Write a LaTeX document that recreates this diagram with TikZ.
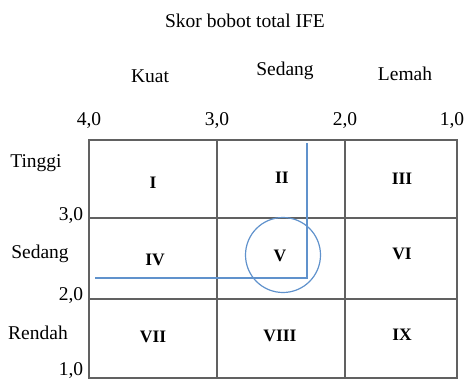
\documentclass[tikz,border=0pt]{standalone}
\usepackage{fontspec}
\setmainfont{Liberation Serif}
\begin{document}
\begin{tikzpicture}[x=1pt,y=-1pt,
  lbl/.style={font=\fontsize{19.5}{22}\selectfont, inner sep=0pt},
  num/.style={font=\fontsize{17.5}{20}\selectfont\bfseries, inner sep=0pt},
  grid/.style={draw=black!62, line width=1.3pt}]
\useasboundingbox (0,0) rectangle (469,380);
\definecolor{bl}{RGB}{96,146,204}
\tikzset{bline/.style={draw=bl, line width=2.8pt}, bcirc/.style={draw=bl, line width=1.2pt}}
% grid corners
\coordinate (a0) at (89,140); \coordinate (a1) at (217,140); \coordinate (a2) at (345,140); \coordinate (a3) at (457,140);
\coordinate (b0) at (89,218); \coordinate (b3) at (457,218);
\coordinate (c0) at (89,299); \coordinate (c3) at (457,299);
\coordinate (d0) at (89,378); \coordinate (d1) at (217,378); \coordinate (d2) at (345,378); \coordinate (d3) at (457,378);
\draw[grid] (a0) rectangle (d3);
\draw[grid] (a1) -- (d1);
\draw[grid] (a2) -- (d2);
\draw[grid] (b0) -- (b3);
\draw[grid] (c0) -- (c3);
% title and headers
\node[lbl] (title) at (245,21) {Skor bobot total IFE};
\node[lbl] (kuat) at (150,76) {Kuat};
\node[lbl] (sedangT) at (285,71) {Sedang};
\node[lbl] (lemah) at (405,74) {Lemah};
\node[lbl] (x4) at (89,121) {4,0};
\node[lbl] (x3) at (217,121) {3,0};
\node[lbl] (x2) at (345,121) {2,0};
\node[lbl] (x1) at (452,121) {1,0};
\node[lbl] (tinggi) at (36,163) {Tinggi};
\node[lbl] (y3) at (71,216) {3,0};
\node[lbl] (sedangL) at (40,254) {Sedang};
\node[lbl] (y2) at (71,296) {2,0};
\node[lbl] (rendah) at (38,333) {Rendah};
\node[lbl] (y1) at (71,371) {1,0};
% cells
\node[num] (c1) at (153,183) {I};
\node[num] (c2) at (282,178) {II};
\node[num] (c3n) at (402,179) {III};
\node[num] (c4) at (155,260) {IV};
\node[num] (c5) at (280,256) {V};
\node[num] (c6) at (402,254) {VI};
\node[num] (c7) at (153,337) {VII};
\node[num] (c8) at (280,336) {VIII};
\node[num] (c9) at (402,335) {IX};
% blue lines
\coordinate (p0) at (95,278); \coordinate (p1) at (307,278); \coordinate (p2) at (307,143);
\draw[bline] (p0) -- (p1) -- (p2);
\node[bcirc, circle, minimum size=75pt, inner sep=0pt] (circ) at (283,255) {};
\end{tikzpicture}
\end{document}
